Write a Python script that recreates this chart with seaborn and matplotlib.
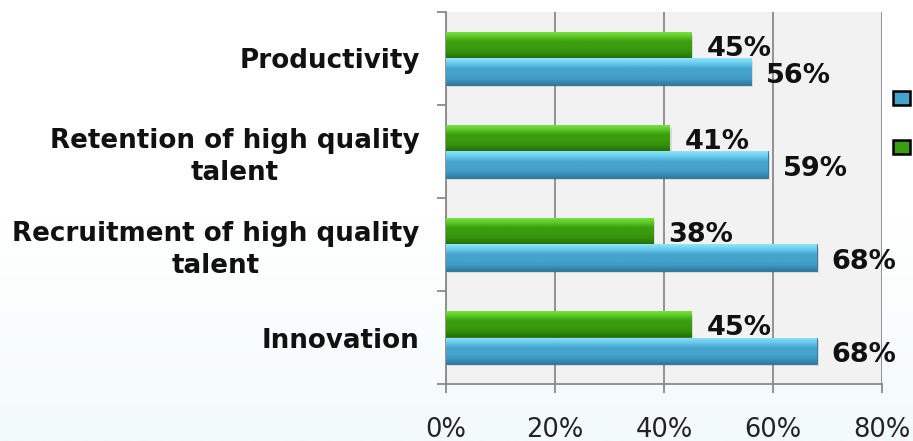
import numpy as np
import pandas as pd
import matplotlib
matplotlib.use("Agg")
import matplotlib.pyplot as plt
import seaborn as sns
from matplotlib.colors import LinearSegmentedColormap
from matplotlib.patches import Patch

categories = ["Productivity", "Retention of high quality\ntalent",
              "Recruitment of high quality\ntalent", "Innovation"]
series_names = ["Series 1", "Series 2"]
blue_values = [56, 59, 68, 68]
green_values = [45, 41, 38, 45]
x_ticks = [0, 20, 40, 60, 80]
x_tick_labels = ["0%", "20%", "40%", "60%", "80%"]

sns.set_theme(style="white")
plt.rcParams["font.family"] = ["DejaVu Sans"]

df = pd.DataFrame({
    "category": categories * 2,
    "series": [series_names[0]] * 4 + [series_names[1]] * 4,
    "value": blue_values + green_values,
})

W, H = 913, 441
fig = plt.figure(figsize=(W / 100, H / 100), dpi=100)

# background gradient
bg = fig.add_axes([0, 0, 1, 1], zorder=-10)
grad = np.linspace(0, 1, 256).reshape(-1, 1)
bg_cmap = LinearSegmentedColormap.from_list("bg", ["#ffffff", "#ffffff", "#f3fafb"])
bg.imshow(grad, aspect="auto", cmap=bg_cmap, extent=[0, 1, 0, 1], origin="upper")
bg.axis("off")

ax = fig.add_axes([446 / W, 1 - 384 / H, (882 - 446) / W, (384 - 12) / H])
ax.set_facecolor("#f2f2f2")

blue_main = "#46a3cc"
green_main = "#3a9c0e"
sns.barplot(data=df, y="category", x="value", hue="series",
            hue_order=[series_names[1], series_names[0]],
            palette={series_names[0]: blue_main, series_names[1]: green_main},
            order=categories, orient="h", width=0.56, ax=ax, legend=False,
            saturation=1, zorder=3)

cmaps = {
    green_main: LinearSegmentedColormap.from_list(
        "g", ["#7ee64a", "#5cc826", "#3a9c0e", "#3a9c0e", "#33900b", "#246e06"]),
    blue_main: LinearSegmentedColormap.from_list(
        "b", ["#8fe4fa", "#66c9ec", "#46a3cc", "#46a3cc", "#3f98c2", "#2e7aa0"]),
}

ax.set_xlim(0, 80)
ax.set_ylim(3.5, -0.5)

bars = list(ax.patches)
for p in bars:
    fc = matplotlib.colors.to_hex(p.get_facecolor())
    key = blue_main if abs(int(fc[1:3], 16) - 0x46) < 10 else green_main
    x0, y0 = p.get_x(), p.get_y()
    w, h = p.get_width(), p.get_height()
    if w <= 0:
        continue
    sh = plt.Rectangle((x0 + 0.4, y0 + 0.03), w, h, facecolor="#000000",
                       alpha=0.10, edgecolor="none", zorder=2)
    ax.add_patch(sh)
    im = ax.imshow(np.linspace(0, 1, 64).reshape(-1, 1), cmap=cmaps[key],
                   extent=[x0, x0 + w, y0 + h, y0], aspect="auto",
                   origin="upper", zorder=4)
    im.set_clip_path(p)
    p.set_edgecolor("#2a6f8f" if key == blue_main else "#2a7008")
    p.set_linewidth(0.6)
    val = int(round(w))
    ax.annotate(f"{val}%", xy=(x0 + w, y0 + h / 2), xytext=(15, -4),
                textcoords="offset pixels", ha="left", va="center",
                fontsize=19.5, fontweight="bold", color="#111111", zorder=6)

ax.set_ylim(3.5, -0.5)
ax.set_xlim(0, 80)

ax.set_xticks(x_ticks)
ax.set_xticklabels(x_tick_labels, fontsize=18.5, color="#222222")
ax.grid(axis="x", color="#8a8a8a", linewidth=1.3, zorder=1)
ax.set_axisbelow(True)
ax.set_xlabel("")
ax.set_ylabel("")

ax.set_yticks(range(len(categories)))
ax.set_yticklabels(categories, fontsize=18.8, fontweight="bold", color="#111111")
for lab in ax.get_yticklabels():
    lab.set_multialignment("center")
    lab.set_linespacing(1.28)
ax.set_yticks(np.arange(-0.5, len(categories)), minor=True)
ax.tick_params(axis="y", which="major", length=0, pad=19)
ax.tick_params(axis="y", which="minor", length=6.5, width=1.3, color="#8a8a8a", left=True)
ax.tick_params(axis="x", which="major", length=6.5, width=1.3, color="#8a8a8a",
               bottom=True, pad=17)

for side in ["top", "right"]:
    ax.spines[side].set_visible(False)
for side in ["left", "bottom"]:
    ax.spines[side].set_color("#8a8a8a")
    ax.spines[side].set_linewidth(1.3)

handles = [Patch(facecolor=blue_main, edgecolor="black", linewidth=1.8),
           Patch(facecolor=green_main, edgecolor="black", linewidth=1.8)]
fig.legend(handles=handles, labels=["", ""], loc="upper left",
           bbox_to_anchor=(893 / W, 1 - 91 / H), frameon=False, fontsize=10,
           handlelength=1.2, handleheight=1.2, labelspacing=2.45,
           handletextpad=0, borderpad=0, borderaxespad=0)

fig.savefig("out.png", dpi=100)
